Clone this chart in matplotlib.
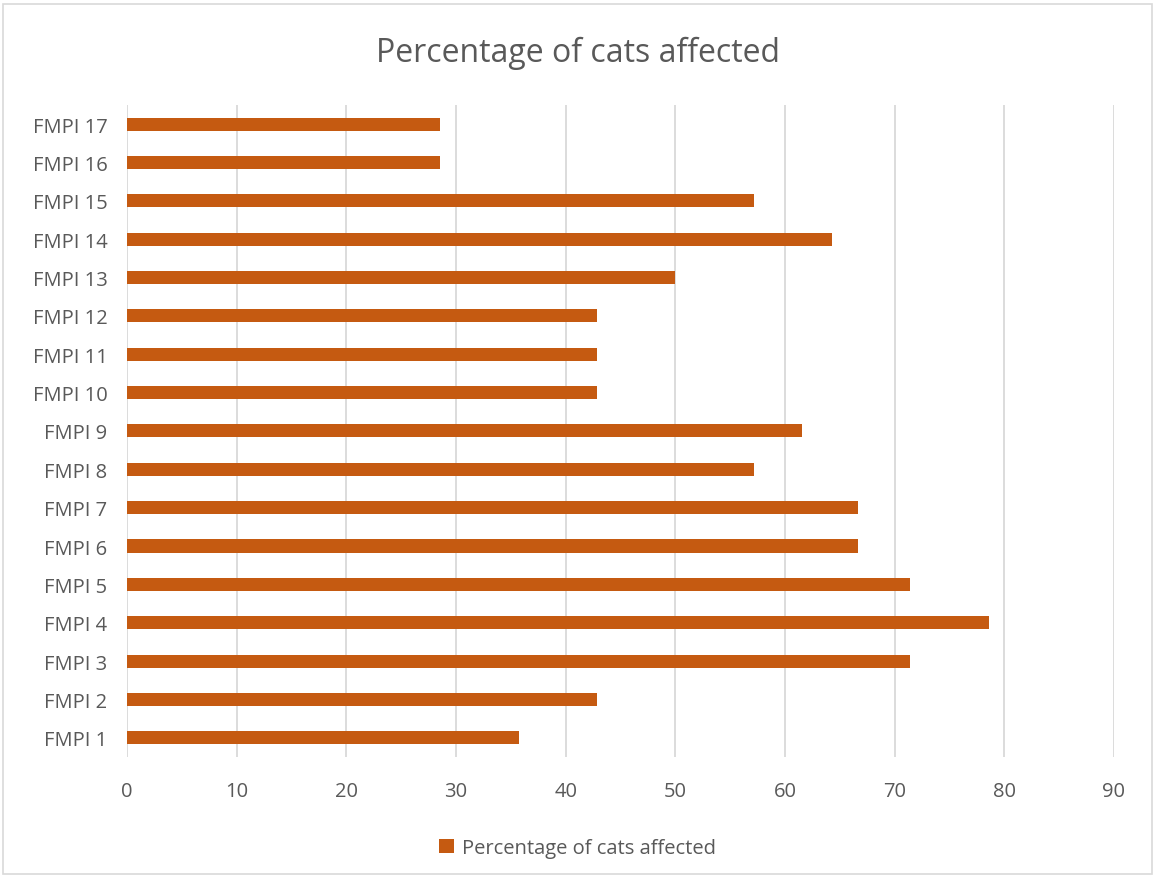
import matplotlib.pyplot as plt
from matplotlib.patches import Rectangle

# values
labels = ['FMPI %d' % i for i in range(1, 18)]
values = [35.71, 42.86, 71.43, 78.57, 71.43, 66.67, 66.67, 57.14, 61.54,
          42.86, 42.86, 42.86, 50.0, 64.29, 57.14, 28.57, 28.57]
x_ticks = list(range(0, 100, 10))

bar_color = '#C55A11'
text_color = '#595959'
grid_color = '#D9D9D9'

plt.rcParams['font.family'] = ['Open Sans', 'DejaVu Sans']

fig = plt.figure(figsize=(11.55, 8.79), dpi=100)
ax = fig.add_axes([0.110, 0.1377, 0.8545, 0.7418])

bars = ax.barh(labels, values, height=0.34, color=bar_color,
               label='Percentage of cats affected', zorder=3)

ax.set_xlim(0, 90)
ax.set_xticks(x_ticks)
ax.set_ylim(-0.5, len(labels) - 0.5)
ax.grid(axis='x', color=grid_color, linewidth=1.3, zorder=0)
for s in ax.spines.values():
    s.set_visible(False)
ax.tick_params(axis='both', length=0, labelsize=14.5, colors=text_color)
ax.tick_params(axis='x', pad=17)
ax.tick_params(axis='y', pad=14)

fig.text(0.5, 0.939, 'Percentage of cats affected', ha='center', va='center',
         fontsize=23, color=text_color)

fig.legend(handles=[bars], loc='center', bbox_to_anchor=(0.5, 0.034),
           frameon=False, fontsize=14.5, labelcolor=text_color,
           handlelength=0.7, handleheight=0.7, handletextpad=0.4)

fig.patches.append(Rectangle((0.003, 0.004), 0.994, 0.99, transform=fig.transFigure,
                             fill=False, edgecolor='#D9D9D9', linewidth=1.2))

fig.savefig('out.png', dpi=100)
